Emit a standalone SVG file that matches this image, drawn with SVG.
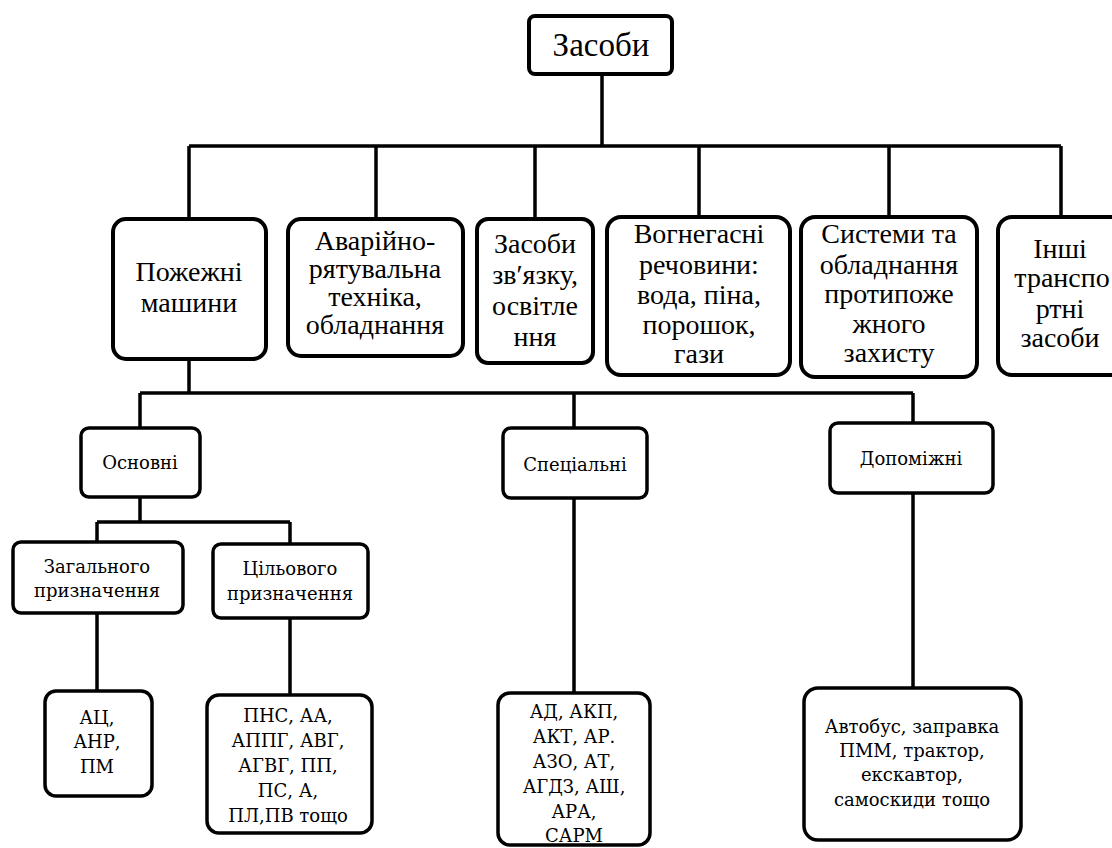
<svg xmlns="http://www.w3.org/2000/svg" width="1112" height="848" viewBox="0 0 1112 848">
<style>
.b{fill:#fff;stroke:#000;stroke-width:4}
.b2{fill:#fff;stroke:#000;stroke-width:3.5}
.c{fill:none;stroke:#000;stroke-width:3.5}
</style>
<rect width="1112" height="848" fill="#fff"/>
<g id="connectors">
<path class="c" d="M602 74V146M189 146H1061M189 146V219M376 146V219M535 146V219M699 146V217M889 146V217M1061 146V217"/>
<path class="c" d="M189 359V393M140 393H913M140 393V428M574 393V428M913 393V423"/>
<path class="c" d="M140 497V522M97 522H290M97 522V542M290 522V544"/>
<path class="c" d="M97 613V691M290 618V695M574 498V693M913 493V688"/>
</g>
<g font-family="Times New Roman" font-size="28" text-anchor="middle" fill="#000">
<g id="n-zasoby"><rect class="b" x="529" y="16" width="143" height="58" rx="6"/><text x="601" y="56" font-size="33">Засоби</text></g>
<g id="n-pozhezhni"><rect class="b" x="113" y="219" width="153" height="140" rx="13"/><text x="189" y="281">Пожежні</text><text x="189" y="312">машини</text></g>
<g id="n-avariyno"><rect class="b" x="288" y="219" width="175" height="137" rx="13"/><text x="375" y="250">Аварійно-</text><text x="375" y="278">рятувальна</text><text x="375" y="306">техніка,</text><text x="375" y="334">обладнання</text></g>
<g id="n-zvyazok"><rect class="b" x="477" y="219" width="116" height="144" rx="11"/><text x="535" y="253">Засоби</text><text x="535" y="284">зв′язку,</text><text x="535" y="315">освітле</text><text x="535" y="346">ння</text></g>
<g id="n-vohnehasni"><rect class="b" x="607" y="217" width="183" height="158" rx="14"/><text x="699" y="243">Вогнегасні</text><text x="699" y="274">речовини:</text><text x="699" y="304">вода, піна,</text><text x="699" y="334">порошок,</text><text x="699" y="363">гази</text></g>
<g id="n-systemy"><rect class="b" x="801" y="217" width="176" height="160" rx="14"/><text x="889" y="243">Системи та</text><text x="889" y="274">обладнання</text><text x="889" y="303">протипоже</text><text x="889" y="333">жного</text><text x="889" y="362">захисту</text></g>
<g id="n-inshi"><rect class="b" x="998" y="217" width="128" height="158" rx="14"/><text x="1060" y="258">Інші</text><text x="1062" y="287">транспо</text><text x="1060" y="318">ртні</text><text x="1060" y="347">засоби</text></g>
</g>
<g font-family="DejaVu Serif" font-size="18" text-anchor="middle" fill="#000">
<g id="n-osnovni"><rect class="b2" x="81" y="428" width="119" height="69" rx="8"/><text x="140" y="469">Основні</text></g>
<g id="n-spetsialni"><rect class="b2" x="503" y="428" width="144" height="70" rx="8"/><text x="575" y="471">Спеціальні</text></g>
<g id="n-dopomizhni"><rect class="b2" x="830" y="423" width="163" height="70" rx="8"/><text x="911" y="465">Допоміжні</text></g>
<g id="n-zahalnoho"><rect class="b2" x="13" y="542" width="170" height="71" rx="8"/><text x="97" y="573">Загального</text><text x="97" y="597">призначення</text></g>
<g id="n-tsilovoho"><rect class="b2" x="213" y="544" width="155" height="74" rx="8"/><text x="290" y="575">Цільового</text><text x="290" y="600">призначення</text></g>
<g id="n-ats"><rect class="b2" x="45" y="691" width="107" height="105" rx="11"/><text x="97" y="724">АЦ,</text><text x="97" y="748">АНР,</text><text x="97" y="773">ПМ</text></g>
<g id="n-pns"><rect class="b2" x="207" y="695" width="165" height="138" rx="12"/><text x="288" y="722">ПНС, АА,</text><text x="288" y="747">АППГ, АВГ,</text><text x="288" y="772">АГВГ, ПП,</text><text x="288" y="797">ПС, А,</text><text x="288" y="822">ПЛ,ПВ тощо</text></g>
<g id="n-ad"><rect class="b2" x="498" y="693" width="152" height="152" rx="12"/><text x="574" y="718">АД, АКП,</text><text x="574" y="743">АКТ, АР.</text><text x="574" y="768">АЗО, АТ,</text><text x="574" y="793">АГДЗ, АШ,</text><text x="574" y="818">АРА,</text><text x="574" y="842">САРМ</text></g>
<g id="n-avtobus"><rect class="b2" x="804" y="688" width="217" height="152" rx="14"/><text x="912" y="733">Автобус, заправка</text><text x="912" y="757">ПММ, трактор,</text><text x="912" y="781">екскавтор,</text><text x="912" y="806">самоскиди тощо</text></g>
</g>
</svg>
